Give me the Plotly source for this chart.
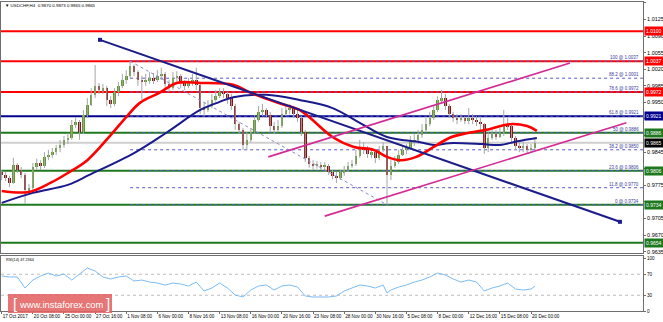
import plotly.graph_objects as go

# ---------------- data ----------------
symbol_title = "\u25bc USDCHF,H4  0.9870 0.9873 0.9865 0.9865"
rsi_title = "RSI(14) 47.2364"

# H4 bars, sampled every 2 bars (bar index 0 = 17 Oct 2017)
closes = [
    0.9797, 0.9790, 0.9780, 0.9818, 0.9807, 0.9797, 0.9765, 0.9769, 0.9814, 0.9822,
    0.9816, 0.9835, 0.9839, 0.9845, 0.9854, 0.9860, 0.9871, 0.9875, 0.9902, 0.9909,
    0.9887, 0.9923, 0.9944, 0.9966, 0.9985, 0.9976, 0.9980, 0.9955, 0.9947, 0.9972,
    0.9985, 0.9997, 1.0006, 1.0027, 1.0014, 0.9997, 0.9993, 0.9997, 1.0001, 0.9997,
    1.0006, 1.0010, 0.9989, 0.9980, 1.0001, 1.0006, 0.9993, 0.9985, 0.9993, 0.9997,
    0.9987, 0.9938, 0.9934, 0.9942, 0.9955, 0.9963, 0.9972, 0.9968, 0.9959, 0.9942,
    0.9904, 0.9892, 0.9860, 0.9871, 0.9887, 0.9913, 0.9930, 0.9934, 0.9923, 0.9900,
    0.9892, 0.9900, 0.9925, 0.9934, 0.9938, 0.9925, 0.9917, 0.9887, 0.9833, 0.9820,
    0.9816, 0.9818, 0.9814, 0.9816, 0.9803, 0.9795, 0.9790, 0.9803, 0.9807, 0.9816,
    0.9820, 0.9837, 0.9854, 0.9850, 0.9841, 0.9845, 0.9833, 0.9850, 0.9858, 0.9797,
    0.9816, 0.9824, 0.9839, 0.9850, 0.9854, 0.9866, 0.9871, 0.9881, 0.9892, 0.9904,
    0.9917, 0.9934, 0.9955, 0.9959, 0.9942, 0.9925, 0.9917, 0.9913, 0.9917, 0.9911,
    0.9917, 0.9913, 0.9909, 0.9904, 0.9854, 0.9875, 0.9883, 0.9879, 0.9883, 0.9904,
    0.9900, 0.9875, 0.9858, 0.9854, 0.9858, 0.9850, 0.9854, 0.9865]
highs = [
    0.9807, 0.9803, 0.9795, 0.9833, 0.9822, 0.9814, 0.9801, 0.9778, 0.9822, 0.9831,
    0.9828, 0.9845, 0.9850, 0.9854, 0.9860, 0.9871, 0.9879, 0.9885, 0.9913, 0.9919,
    0.9913, 0.9934, 0.9959, 0.9980, 1.0029, 0.9991, 0.9989, 0.9985, 0.9963, 0.9980,
    0.9993, 1.0010, 1.0018, 1.0037, 1.0030, 1.0018, 1.0006, 1.0010, 1.0014, 1.0012,
    1.0018, 1.0023, 1.0014, 0.9997, 1.0014, 1.0016, 1.0010, 0.9997, 1.0001, 1.0010,
    1.0023, 0.9989, 0.9951, 0.9955, 0.9968, 0.9976, 0.9980, 0.9980, 0.9972, 0.9968,
    0.9947, 0.9909, 0.9896, 0.9887, 0.9896, 0.9923, 0.9942, 0.9947, 0.9938, 0.9930,
    0.9909, 0.9913, 0.9938, 0.9947, 0.9947, 0.9942, 0.9934, 0.9921, 0.9892, 0.9837,
    0.9828, 0.9826, 0.9824, 0.9824, 0.9820, 0.9807, 0.9803, 0.9807, 0.9816, 0.9824,
    0.9828, 0.9850, 0.9871, 0.9866, 0.9858, 0.9854, 0.9850, 0.9858, 0.9866, 0.9858,
    0.9828, 0.9837, 0.9850, 0.9860, 0.9862, 0.9879, 0.9883, 0.9892, 0.9904, 0.9917,
    0.9930, 0.9944, 0.9963, 0.9976, 0.9968, 0.9947, 0.9930, 0.9925, 0.9925, 0.9921,
    0.9938, 0.9925, 0.9921, 0.9917, 0.9906, 0.9887, 0.9892, 0.9892, 0.9896, 0.9934,
    0.9917, 0.9904, 0.9879, 0.9866, 0.9866, 0.9862, 0.9862, 0.9873]
lows = [
    0.9786, 0.9784, 0.9771, 0.9778, 0.9801, 0.9790, 0.9736, 0.9757, 0.9765, 0.9807,
    0.9807, 0.9812, 0.9828, 0.9833, 0.9839, 0.9845, 0.9854, 0.9862, 0.9871, 0.9896,
    0.9871, 0.9883, 0.9917, 0.9942, 0.9959, 0.9968, 0.9968, 0.9942, 0.9938, 0.9942,
    0.9963, 0.9980, 0.9989, 1.0001, 1.0006, 0.9985, 0.9955, 0.9985, 0.9989, 0.9989,
    0.9993, 0.9997, 0.9980, 0.9972, 0.9976, 0.9993, 0.9980, 0.9976, 0.9980, 0.9985,
    0.9976, 0.9925, 0.9921, 0.9930, 0.9938, 0.9951, 0.9959, 0.9959, 0.9947, 0.9934,
    0.9892, 0.9883, 0.9850, 0.9850, 0.9866, 0.9883, 0.9909, 0.9921, 0.9917, 0.9887,
    0.9883, 0.9887, 0.9896, 0.9921, 0.9925, 0.9917, 0.9909, 0.9879, 0.9824, 0.9812,
    0.9807, 0.9810, 0.9807, 0.9807, 0.9797, 0.9788, 0.9780, 0.9786, 0.9795, 0.9803,
    0.9812, 0.9816, 0.9833, 0.9841, 0.9833, 0.9833, 0.9822, 0.9828, 0.9845, 0.9734,
    0.9786, 0.9812, 0.9820, 0.9837, 0.9841, 0.9850, 0.9858, 0.9862, 0.9875, 0.9887,
    0.9900, 0.9913, 0.9930, 0.9947, 0.9934, 0.9917, 0.9909, 0.9904, 0.9909, 0.9904,
    0.9904, 0.9904, 0.9900, 0.9892, 0.9841, 0.9845, 0.9871, 0.9871, 0.9875, 0.9879,
    0.9892, 0.9862, 0.9850, 0.9845, 0.9845, 0.9841, 0.9845, 0.9850]
first_open = 0.9803
bars = list(range(0, 2 * len(closes), 2))
opens = [first_open] + closes[:-1]

# moving averages (sampled)
red_ma_bars = [0, 14, 25, 34, 44, 56, 64, 71, 81, 90, 102, 119, 128, 142, 153, 158,
               170, 181, 191, 198, 205, 213, 222, 230, 239, 251, 261, 270, 275]
red_ma_vals = [0.9763, 0.9761, 0.9780, 0.9801, 0.9828, 0.9881, 0.9919, 0.9949, 0.9970,
               0.9991, 0.9991, 0.9987, 0.9970, 0.9949, 0.9934, 0.9919, 0.9877, 0.9856,
               0.9850, 0.9835, 0.9828, 0.9835, 0.9856, 0.9875, 0.9885, 0.9894, 0.9904,
               0.9900, 0.9890]
blue_ma_bars = [0, 16, 34, 45, 68, 85, 102, 112, 119, 136, 153, 170, 184, 198, 215,
                222, 230, 247, 256, 265, 275]
blue_ma_vals = [0.9738, 0.9759, 0.9776, 0.9797, 0.9843, 0.9887, 0.9934, 0.9951, 0.9961,
                0.9966, 0.9955, 0.9938, 0.9907, 0.9877, 0.9866, 0.9860, 0.9864, 0.9862,
                0.9860, 0.9868, 0.9875]

# trend lines
down_trend_bars = [50.5, 317.7]
down_trend_vals = [1.0082, 0.9698]
channel_up_bars = [137, 292]
channel_up_vals = [0.9835, 1.0033]
channel_lo_bars = [166, 321]
channel_lo_vals = [0.9710, 0.9907]

# horizontal levels
red_levels = [1.0100, 1.0037, 0.9972]
blue_levels = [0.9921]
green_levels = [0.9886, 0.9806, 0.9734, 0.9654]
current_price = 0.9865

# fibonacci retracement
fib_bars = [66, 198]
fib_ends = [1.0037, 0.9734]
fib_ratios = ["100", "88.2", "78.6", "61.8", "50", "38.2", "23.6", "11.8", "0"]
fib_prices = [1.0037, 1.0001, 0.9972, 0.9921, 0.9886, 0.9850, 0.9806, 0.9770, 0.9734]

# RSI(14)
rsi_bars = [0, 4, 8, 12, 16, 20, 24, 28, 32, 36, 40, 44, 48, 52, 56, 60, 64, 68, 72, 76,
            80, 84, 88, 92, 96, 100, 104, 108, 112, 116, 120, 124, 128, 132, 136, 140,
            144, 148, 152, 156, 160, 164, 168, 172, 176, 180, 184, 188, 192, 196, 198,
            200, 204, 208, 212, 216, 220, 224, 228, 232, 236, 240, 244, 248, 252, 256,
            260, 264, 268, 272, 274]
rsi_vals = [66.7, 64.8, 64.8, 43.8, 59.0, 66.7, 72.4, 66.7, 70.5, 59.0,
            70.5, 81.9, 76.2, 64.8, 61.0, 64.8, 66.7, 57.1, 59.0, 55.2,
            53.3, 49.5, 53.3, 51.4, 47.6, 55.2, 38.1, 43.8, 53.3, 43.8,
            30.5, 26.7, 40.0, 47.6, 49.5, 40.0, 47.6, 49.5, 45.7, 28.6,
            26.7, 26.7, 26.7, 28.6, 38.1, 43.8, 49.5, 47.6, 43.8, 49.5,
            34.3, 40.0, 45.7, 49.5, 55.2, 59.0, 64.8, 72.4, 68.6, 61.0,
            55.2, 59.0, 55.2, 38.1, 43.8, 47.6, 53.3, 41.9, 40.0, 41.9, 47.2364]
rsi_levels = [30, 70]

# axis labels
price_ticks = [1.0160, 1.0125, 1.0090, 1.0055, 1.0020, 0.9985, 0.9950, 0.9915, 0.9880,
               0.9845, 0.9810, 0.9775, 0.9740, 0.9705, 0.9670, 0.9635]
time_labels = ["17 Oct 2017", "20 Oct 08:00", "25 Oct 00:00", "27 Oct 16:00",
               "1 Nov 08:00", "6 Nov 00:00", "8 Nov 16:00", "13 Nov 08:00",
               "16 Nov 00:00", "20 Nov 16:00", "23 Nov 08:00", "28 Nov 00:00",
               "30 Nov 16:00", "5 Dec 08:00", "8 Dec 00:00", "12 Dec 16:00",
               "15 Dec 08:00", "20 Dec 00:00"]
bars_per_label = 16
time_tick_bars = [bars_per_label * k for k in range(len(time_labels))]

# ---------------- layout geometry ----------------
W, H = 663, 322
ML, MR, MT, MB = 1, 20, 2, 11
PW, PH = W - ML - MR, H - MT - MB


def px_x(px):
    return (px - ML) / PW


def px_y(py):
    return (H - MB - py) / PH


X_RANGE = [-0.36, 329.55]
Y_RANGE = [0.96322, 1.01618]
RSI_RANGE = [0, 104.8]
FONT = "Liberation Sans, Arial, DejaVu Sans"
AXC = "#6e6e6e"

RED, BLUE, GREEN = "#ff0000", "#00008b", "#1e781e"
MAGENTA = "#d42a96"
UPC, DNC = "#5f9a2a", "#8b1010"

fig = go.Figure()

# wicks
wx, wy = [], []
for b, lo, hi in zip(bars, lows, highs):
    wx += [b, b, None]
    wy += [lo, hi, None]
fig.add_trace(go.Scatter(x=wx, y=wy, mode="lines", line=dict(color="#a6a6a6", width=1),
                         hoverinfo="skip", showlegend=False))
# bodies
bases = [min(o, c) for o, c in zip(opens, closes)]
heights = [max(abs(c - o), 0.00006) for o, c in zip(opens, closes)]
colors = [UPC if c >= o else DNC for o, c in zip(opens, closes)]
fig.add_trace(go.Bar(x=bars, y=heights, base=bases, marker=dict(color=colors, line=dict(width=0)),
                     width=1.3, hoverinfo="skip", showlegend=False))

# fib diagonal
fig.add_trace(go.Scatter(x=fib_bars, y=fib_ends, mode="lines",
                         line=dict(color="#8c8cc8", width=1, dash="dot"),
                         hoverinfo="skip", showlegend=False))

# moving averages
fig.add_trace(go.Scatter(x=blue_ma_bars, y=blue_ma_vals, mode="lines", line_shape="spline",
                         line=dict(color="#1a1a8c", width=2), hoverinfo="skip", showlegend=False))
fig.add_trace(go.Scatter(x=red_ma_bars, y=red_ma_vals, mode="lines", line_shape="spline",
                         line=dict(color=RED, width=2.6), hoverinfo="skip", showlegend=False))

# trend lines
fig.add_trace(go.Scatter(x=down_trend_bars, y=down_trend_vals, mode="lines+markers",
                         line=dict(color="#1c1c8a", width=2),
                         marker=dict(symbol="square", size=4, color="#1c1c8a"),
                         hoverinfo="skip", showlegend=False))
fig.add_trace(go.Scatter(x=channel_up_bars, y=channel_up_vals, mode="lines",
                         line=dict(color=MAGENTA, width=1.6), hoverinfo="skip", showlegend=False))
fig.add_trace(go.Scatter(x=channel_lo_bars, y=channel_lo_vals, mode="lines",
                         line=dict(color=MAGENTA, width=1.6), hoverinfo="skip", showlegend=False))

# RSI
fig.add_trace(go.Scatter(x=rsi_bars, y=rsi_vals, mode="lines", xaxis="x2", yaxis="y2",
                         line=dict(color="#7dbcf5", width=1), hoverinfo="skip", showlegend=False))

shapes = []
# current price line
shapes.append(dict(type="line", xref="paper", yref="y", x0=0, x1=1, y0=current_price,
                   y1=current_price, line=dict(color="#cfcfcf", width=2), layer="below"))
# fib dotted levels
for p in fib_prices:
    shapes.append(dict(type="line", xref="x", yref="y", x0=fib_bars[0], x1=X_RANGE[1],
                       y0=p, y1=p, line=dict(color="#5a5ac8", width=1, dash="dot"),
                       layer="below"))
# solid levels
for lv_list, col in ((red_levels, RED), (blue_levels, BLUE), (green_levels, GREEN)):
    for p in lv_list:
        shapes.append(dict(type="line", xref="paper", yref="y", x0=0, x1=1, y0=p, y1=p,
                           line=dict(color=col, width=2), layer="below"))
# RSI levels
for r in rsi_levels:
    shapes.append(dict(type="line", xref="paper", yref="y2", x0=0, x1=1, y0=r, y1=r,
                       line=dict(color="#bdbdbd", width=1, dash="dot"), layer="below"))
# watermark box
shapes.append(dict(type="rect", xref="paper", yref="paper", x0=px_x(8), x1=px_x(112),
                   y0=px_y(313), y1=px_y(294), fillcolor="rgba(226,98,98,0.88)",
                   line=dict(width=0), layer="above"))

annotations = []
annotations.append(dict(text=symbol_title, xref="paper", yref="paper", x=px_x(3), y=px_y(6),
                        xanchor="left", yanchor="middle", showarrow=False,
                        font=dict(family=FONT, size=4.4, color="#000000")))
annotations.append(dict(text=rsi_title, xref="paper", yref="paper", x=px_x(4), y=px_y(260),
                        xanchor="left", yanchor="middle", showarrow=False,
                        font=dict(family=FONT, size=3.8, color="#000000")))
# fib labels
for r, p in zip(fib_ratios, fib_prices):
    annotations.append(dict(text=f"{r} @ {p:.4f}", xref="paper", yref="y", x=1, y=p,
                            xanchor="right", yanchor="bottom", xshift=-2, yshift=-1,
                            showarrow=False,
                            font=dict(family=FONT, size=4.5, color="#3c3ca0")))
# price boxes
boxes = ([(p, RED) for p in red_levels] + [(p, BLUE) for p in blue_levels] +
         [(p, GREEN) for p in green_levels] + [(current_price, "#000000")])
for p, col in boxes:
    annotations.append(dict(text=f"{p:.4f}", xref="paper", yref="y", x=1, y=p,
                            xanchor="left", yanchor="middle", xshift=1, showarrow=False,
                            bgcolor=col, borderpad=1,
                            font=dict(family=FONT, size=5, color="#ffffff")))
# watermark text
annotations.append(dict(text="www.instaforex.com", xref="paper", yref="paper",
                        x=px_x(61), y=px_y(304), xanchor="center", yanchor="middle",
                        showarrow=False, font=dict(family=FONT, size=9.4, color="#ffffff")))
for ch, xp in (("[", 15), ("]", 108)):
    annotations.append(dict(text=ch, xref="paper", yref="paper", x=px_x(xp), y=px_y(303.5),
                            xanchor="center", yanchor="middle", showarrow=False,
                            font=dict(family=FONT, size=15, color="#ffffff")))

# price tick labels hidden behind a level box (as in the terminal) are left blank
box_prices = [p for p, _ in boxes]
price_tick_text = ["" if any(abs(t - b) < 0.0008 for b in box_prices) else f"{t:.4f}"
                   for t in price_ticks]

fig.update_layout(
    width=W, height=H,
    margin=dict(l=ML, r=MR, t=MT, b=MB, pad=0, autoexpand=False),
    paper_bgcolor="#ffffff", plot_bgcolor="#ffffff",
    showlegend=False, hovermode=False, bargap=0,
    font=dict(family=FONT, size=5, color="#000000"),
    xaxis=dict(domain=[0, 1], range=X_RANGE, anchor="y", showticklabels=False,
               showgrid=False, zeroline=False, showline=True, mirror=True,
               linecolor=AXC, linewidth=1, ticks="", automargin=False),
    yaxis=dict(domain=[px_y(253), 1], range=Y_RANGE, side="right", anchor="x",
               tickvals=price_ticks, ticktext=price_tick_text,
               tickfont=dict(family=FONT, size=5.5, color="#000000"),
               ticks="outside", ticklen=2, tickcolor=AXC, automargin=False,
               showgrid=False, zeroline=False, showline=True, mirror=True,
               linecolor=AXC, linewidth=1),
    xaxis2=dict(domain=[0, 1], range=X_RANGE, anchor="y2", matches="x",
                tickvals=time_tick_bars, ticktext=time_labels, tickangle=0,
                ticklabelposition="outside right", automargin=False,
                tickfont=dict(family=FONT, size=4.6, color="#000000"),
                ticks="outside", ticklen=2, tickcolor=AXC,
                showgrid=False, zeroline=False, showline=True, mirror=True,
                linecolor=AXC, linewidth=1),
    yaxis2=dict(domain=[0, px_y(256)], range=RSI_RANGE, side="right", anchor="x2",
                tickvals=[0, 30, 70, 100], ticktext=["0", "30", "70", "100"],
                tickfont=dict(family=FONT, size=4.6, color="#000000"),
                ticks="outside", ticklen=2, tickcolor=AXC, automargin=False,
                showgrid=False, zeroline=False, showline=True, mirror=True,
                linecolor=AXC, linewidth=1),
    shapes=shapes,
    annotations=annotations,
)

fig.write_html("out.html")
